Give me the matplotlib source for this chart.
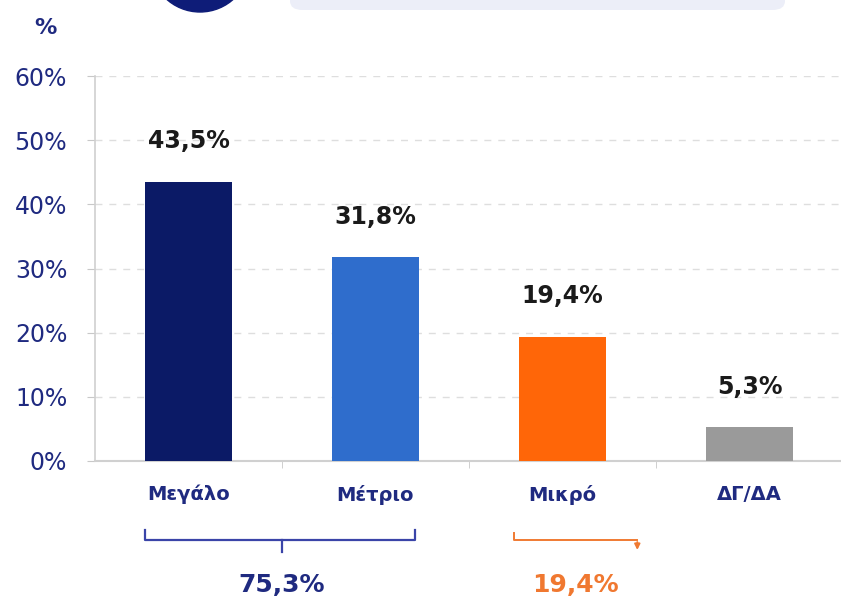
import matplotlib.pyplot as plt
import matplotlib.patches as mpatches

categories = ['Μεγάλο', 'Μέτριο', 'Μικρό', 'ΔΓ/ΔΑ']
values = [43.5, 31.8, 19.4, 5.3]
value_labels = ['43,5%', '31,8%', '19,4%', '5,3%']
yticks = [0, 10, 20, 30, 40, 50, 60]
total_big = '75,3%'
total_small = '19,4%'

colors = ['#0b1a66', '#2f6dcc', '#ff6608', '#9a9a9a']
navy = '#1f2a80'

plt.rcParams['font.family'] = ['DejaVu Sans']

fig = plt.figure(figsize=(8.41, 5.99), dpi=100)
ax = fig.add_axes([95 / 841, 138 / 599, 748 / 841, 385 / 599])

x = range(len(categories))
ax.bar(x, values, width=0.46, color=colors, zorder=3)
for xi, v, lab in zip(x, values, value_labels):
    ax.text(xi, v + 6.3, lab, ha='center', va='center', fontsize=17,
            fontweight='bold', color='#1a1a1a')

ax.set_xlim(-0.5, 3.5)
ax.set_ylim(0, 60)
ax.set_yticks(yticks)
ax.set_yticklabels(['%d%%' % t for t in yticks], fontsize=17, color=navy)
ax.yaxis.grid(True, linestyle=(0, (5, 5)), color='#dedede', linewidth=1)
ax.set_axisbelow(True)

ax.set_xticks(list(x))
ax.set_xticklabels(categories, fontsize=14, fontweight='bold', color=navy)
ax.tick_params(axis='x', length=0, pad=17)
ax.set_xticks([0.5, 1.5, 2.5], minor=True)
ax.tick_params(axis='x', which='minor', length=5, color='#c8c8c8')
ax.tick_params(axis='y', length=6, color='#c8c8c8', pad=14)

for s in ['top', 'right']:
    ax.spines[s].set_visible(False)
ax.spines['left'].set_color('#d0d0d0')
ax.spines['bottom'].set_color('#d0d0d0')
ax.spines['left'].set_linewidth(1.2)
ax.spines['bottom'].set_linewidth(1.5)

# brackets below the axis (data coordinates, outside clip)
bc = '#3a44a8'
ax.plot([-0.23, -0.23, 1.21, 1.21], [-10.7, -12.3, -12.3, -10.7],
        color=bc, lw=1.6, clip_on=False)
ax.plot([0.5, 0.5], [-12.3, -14.2], color=bc, lw=1.6, clip_on=False)
ax.text(0.5, -19.3, total_big, ha='center', va='center', fontsize=18,
        fontweight='bold', color='#1f2a80')

oc = '#f07a32'
ax.plot([1.74, 1.74, 2.40], [-11.2, -12.3, -12.3], color=oc, lw=1.4,
        clip_on=False)
ax.annotate('', xy=(2.40, -14.3), xytext=(2.40, -12.2),
            arrowprops=dict(arrowstyle='-|>', color=oc, lw=1.4,
                            mutation_scale=8),
            annotation_clip=False)
ax.text(2.07, -19.3, total_small, ha='center', va='center', fontsize=18,
        fontweight='bold', color='#f07830')

# header decorations
fig.text(45 / 841, 1 - 28 / 599, '%', ha='center', va='center',
         fontsize=16, fontweight='bold', color=navy)
circ = mpatches.Ellipse((200 / 841, 1 + 38 / 599), 100 / 841, 100 / 599,
                        transform=fig.transFigure, color='#0e1c78')
fig.patches.append(circ)
box = mpatches.FancyBboxPatch((290 / 841, 1 - 10 / 599),
                              495 / 841, 0.05,
                              boxstyle='round,pad=0,rounding_size=0.015',
                              transform=fig.transFigure,
                              facecolor='#eceef8', edgecolor='none')
fig.patches.append(box)

fig.savefig('out.png', dpi=100)
